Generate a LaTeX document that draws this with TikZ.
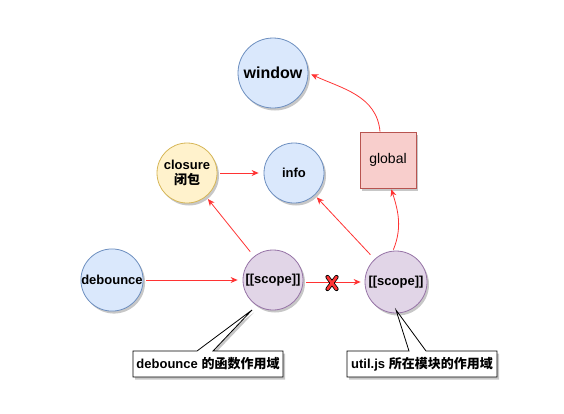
\documentclass[tikz,border=0pt]{standalone}
\usepackage{fontspec}
\setmainfont{Liberation Sans}
\newfontfamily\cjk{Noto Sans CJK SC}
\usetikzlibrary{arrows.meta,shadows}

\definecolor{bluefill}{HTML}{DAE8FC}
\definecolor{bluedraw}{HTML}{6C8EBF}
\definecolor{yellowfill}{HTML}{FFF2CC}
\definecolor{yellowdraw}{HTML}{D6B656}
\definecolor{purplefill}{HTML}{E1D5E7}
\definecolor{purpledraw}{HTML}{9673A6}
\definecolor{redfill}{HTML}{F8CECC}
\definecolor{reddraw}{HTML}{B85450}
\definecolor{linkred}{HTML}{FF3333}

\tikzset{
    shade/.style={drop shadow={shadow xshift=2pt, shadow yshift=-2.5pt, opacity=0.22, fill=black}},
    circ/.style={circle, minimum size=60pt, inner sep=0pt, line width=0.8pt, shade,
        font=\fontsize{13}{15}\selectfont\bfseries, align=center},
    bluecirc/.style={circ, draw=bluedraw, fill=bluefill},
    yellowcirc/.style={circ, draw=yellowdraw, fill=yellowfill},
    purplecirc/.style={circ, draw=purpledraw, fill=purplefill},
    redbox/.style={rectangle, minimum size=56pt, inner sep=0pt, line width=0.8pt, shade,
        draw=reddraw, fill=redfill, font=\fontsize{14}{16}\selectfont},
    link/.style={draw=linkred, line width=0.8pt, -{Stealth[length=7pt,width=6pt]},
        shorten <=3pt, shorten >=5pt},
    callout/.style={draw=black, fill=white, line width=0.8pt, shade},
    notetext/.style={font=\fontsize{13}{15}\selectfont\bfseries, inner sep=0pt}
}

\begin{document}
\begin{tikzpicture}[x=1pt, y=1pt]
    \useasboundingbox (0,0) rectangle (564,-413);

    % scopes and objects
    \node[bluecirc, minimum size=70pt, font=\fontsize{16}{18}\selectfont\bfseries] (window) at (273,-73) {window};
    \node[bluecirc] (info) at (294,-173) {info};
    \node[yellowcirc] (closure) at (187,-173) {closure\\{\cjk\bfseries 闭包}};
    \node[redbox] (global) at (388,-160) {global};
    \node[bluecirc] (debounce) at (112,-280) {debounce};
    \node[purplecirc] (fnscope) at (273,-280) {[[scope]]};
    \node[purplecirc, minimum size=62pt] (modscope) at (396,-282) {[[scope]]};

    % links
    \draw[link] (closure) -- (info);
    \draw[link] (debounce) -- (fnscope);
    \draw[link, shorten <=6pt, shorten >=3pt] (fnscope) -- (closure);
    \draw[link, shorten <=6pt, shorten >=3pt] (modscope) -- (info);
    \draw[link, shorten >=4pt] (fnscope.east |- modscope.west) -- (modscope.west);
    \draw[link, shorten <=1pt, shorten >=1pt] ([xshift=-3pt]modscope.north) to[out=68, in=-72] ([xshift=3pt]global.south);
    \draw[link, shorten <=0pt, shorten >=3pt] ([xshift=-8pt]global.north) to[out=95, in=-25] (window.east);

    % broken link mark
    \coordinate (cut) at (332,-283);
    \foreach \w/\c in {4.2pt/black, 2.6pt/linkred}
        \draw[line width=\w, \c, line cap=round]
            ([shift={(-4.5,6)}]cut) -- ([shift={(4.5,-6)}]cut)
            ([shift={(4.5,6)}]cut) -- ([shift={(-4.5,-6)}]cut);

    % callouts
    \coordinate (fntip) at (252,-310);
    \coordinate (modtip) at (396,-310);
    \path[callout] (133,-351) -- (197,-351) -- (fntip) -- (213,-351) -- (283,-351)
        -- (283,-377) -- (133,-377) -- cycle;
    \path[callout] (347,-351) -- (409,-351) -- (modtip) -- (426,-351) -- (497,-351)
        -- (497,-377) -- (347,-377) -- cycle;
    \node[notetext] (fnnote) at (208,-364) {debounce {\cjk\bfseries 的函数作用域}};
    \node[notetext] (modnote) at (422,-364) {util.js {\cjk\bfseries 所在模块的作用域}};
\end{tikzpicture}
\end{document}
